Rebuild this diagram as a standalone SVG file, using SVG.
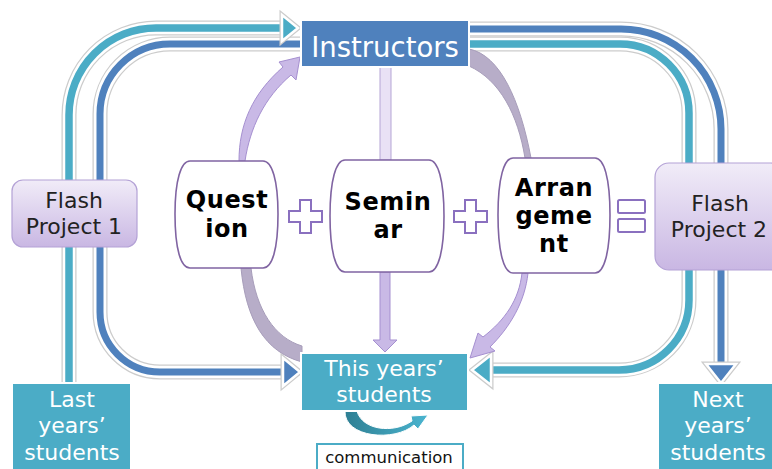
<svg xmlns="http://www.w3.org/2000/svg" xmlns:xlink="http://www.w3.org/1999/xlink" width="772" height="469" viewBox="0 0 772 469">
<defs>
<linearGradient id="lav" x1="0" y1="0" x2="0" y2="1">
<stop offset="0" stop-color="#f1ecf8"/>
<stop offset="1" stop-color="#c9b7e3"/>
</linearGradient>
<linearGradient id="commg" x1="0" y1="0" x2="1" y2="0">
<stop offset="0" stop-color="#2e7f93"/>
<stop offset="1" stop-color="#4bb5d0"/>
</linearGradient>
<path id="pTL" d="M 69 383 V 115 A 87 87 0 0 1 156 28 H 284"/>
<path id="pBL" d="M 300 44 H 170 A 70 70 0 0 0 100 114 V 312 A 60 60 0 0 0 160 372 H 285"/>
<path id="pBR" d="M 469 29 H 621 A 100 100 0 0 1 721 129 V 366"/>
<path id="pTR" d="M 469 44 H 620 A 69 69 0 0 1 689 113 V 300 A 70 70 0 0 1 619 370 H 489"/>
<polygon id="hTL" points="282,15 298,28 282,41"/>
<polygon id="hBL" points="283,358 300,372 283,386"/>
<polygon id="hBR" points="706,364 736,364 721,383"/>
<polygon id="hTR" points="491,355 472,370 491,385"/>
</defs>
<style>
.edge{fill:none;stroke:#cccccc;stroke-width:15}
.halo{fill:none;stroke:#ffffff;stroke-width:12.5}
.lt{fill:none;stroke:#4BACC6;stroke-width:7.5}
.lb{fill:none;stroke:#4F81BD;stroke-width:7}
.hedge{stroke:#cccccc;stroke-width:5;stroke-linejoin:miter}
.hhalo{stroke:#ffffff;stroke-width:2.5;stroke-linejoin:miter}
.ft{fill:#4BACC6}
.fb{fill:#4F81BD}
.node{fill:#ffffff;stroke:#8064A2;stroke-width:1.6}
.lavbox{fill:url(#lav);stroke:#b4a2d6;stroke-width:1.2}
.bluebox{stroke:#ffffff;stroke-width:2}
.txt{font-family:"DejaVu Sans",Verdana,sans-serif}
.w{fill:#ffffff}
.bold{font-family:"DejaVu Sans",Verdana,sans-serif;font-weight:bold;font-size:24px;letter-spacing:0.6px;fill:#000}
.sym{fill:#ffffff;stroke:#8a70bf;stroke-width:2}
.lavarrow{fill:#c9b9e6;stroke:#a58fd0;stroke-width:1}
.grayarrow{fill:#b7adc8;stroke:#a79dba;stroke-width:1}
</style>

<g id="connectors">
<use href="#pTL" class="edge"/><use href="#pTL" class="halo"/><use href="#pTL" class="lt"/>
<use href="#pBL" class="edge"/><use href="#pBL" class="halo"/><use href="#pBL" class="lb"/>
<use href="#pBR" class="edge"/><use href="#pBR" class="halo"/><use href="#pBR" class="lb"/>
<use href="#pTR" class="edge"/><use href="#pTR" class="halo"/><use href="#pTR" class="lt"/>
<use href="#hTL" class="hedge ft"/><use href="#hTL" class="hhalo ft"/>
<use href="#hBL" class="hedge fb"/><use href="#hBL" class="hhalo fb"/>
<use href="#hBR" class="hedge fb"/><use href="#hBR" class="hhalo fb"/>
<use href="#hTR" class="hedge ft"/><use href="#hTR" class="hhalo ft"/>
<path class="lavarrow" d="M 239 161 C 239 125 252 94 283 67 L 279 62 L 300 57 L 296 80 L 291 75 C 264 98 250 128 245 161 Z"/>
<path class="grayarrow" d="M 241 268 C 246 320 265 352 302 362 L 302 346 C 275 338 256 310 251 268 Z"/>
<rect x="380" y="67" width="11" height="93" fill="#e9e1f5" stroke="#b5a5d5" stroke-width="1"/>
<path class="lavarrow" d="M 380 272 V 340 H 373 L 385 352 L 397 340 H 390 V 272 Z"/>
<path class="grayarrow" d="M 469 49 C 500 55 520 100 531 158 L 525 158 C 518 115 500 80 469 66 Z"/>
<path class="lavarrow" d="M 522 273 C 519 300 505 320 483 337 L 478 333 L 470 358 L 495 351 L 490 347 C 510 327 525 302 528 273 Z"/>
<path fill="url(#commg)" stroke="#ffffff" stroke-width="1" d="M 345 411 C 344 438 395 442 414 425 L 418 429 L 428 415 L 411 416 L 412 421 C 393 434 362 430 357 411 Z"/>
</g>

<g id="instructors">
<rect x="301" y="20" width="168" height="47" class="bluebox" fill="#4F81BD"/>
<text x="385" y="57" text-anchor="middle" class="txt w" font-size="27.5">Instructors</text>
</g>

<g id="flash1">
<rect x="12" y="180" width="125" height="67" rx="11" class="lavbox"/>
<text x="74" y="208" text-anchor="middle" class="txt" font-size="22" fill="#222">Flash</text>
<text x="74" y="234" text-anchor="middle" class="txt" font-size="22" fill="#222">Project 1</text>
</g>

<g id="flash2">
<rect x="655" y="163" width="130" height="107" rx="14" class="lavbox"/>
<text x="720" y="211" text-anchor="middle" class="txt" font-size="22" fill="#222">Flash</text>
<text x="719" y="237" text-anchor="middle" class="txt" font-size="22" fill="#222">Project 2</text>
</g>

<g id="question">
<path class="node" d="M 190 161 H 263 C 272 161 278 180 278 214 C 278 250 272 268 263 268 H 190 C 181 268 175 250 175 214 C 175 180 181 161 190 161 Z"/>
<text x="227" y="208" text-anchor="middle" class="bold">Quest</text>
<text x="227" y="237" text-anchor="middle" class="bold">ion</text>
</g>

<g id="plus1">
<path class="sym" d="M 300 200 H 311 V 211 H 322 V 222 H 311 V 233 H 300 V 222 H 289 V 211 H 300 Z"/>
</g>

<g id="seminar">
<path class="node" d="M 345 160 H 429 C 438 160 444 180 444 216 C 444 252 438 272 429 272 H 345 C 336 272 330 252 330 216 C 330 180 336 160 345 160 Z"/>
<text x="388" y="210" text-anchor="middle" class="bold">Semin</text>
<text x="388" y="238" text-anchor="middle" class="bold">ar</text>
</g>

<g id="plus2">
<path class="sym" d="M 465 200 H 476 V 211 H 487 V 222 H 476 V 233 H 465 V 222 H 454 V 211 H 465 Z"/>
</g>

<g id="arrangement">
<path class="node" d="M 513 158 H 595 C 604 158 610 178 610 215 C 610 253 604 273 595 273 H 513 C 504 273 498 253 498 215 C 498 178 504 158 513 158 Z"/>
<text x="554" y="196" text-anchor="middle" class="bold">Arran</text>
<text x="554" y="224" text-anchor="middle" class="bold">geme</text>
<text x="554" y="252" text-anchor="middle" class="bold">nt</text>
</g>

<g id="equals">
<rect x="618" y="200" width="27" height="13" rx="1.5" class="sym"/>
<rect x="618" y="219" width="27" height="13" rx="1.5" class="sym"/>
</g>

<g id="this-years">
<rect x="301" y="353" width="167" height="58" class="bluebox" fill="#4BACC6"/>
<text x="384" y="376" text-anchor="middle" class="txt w" font-size="22">This years’</text>
<text x="384" y="402" text-anchor="middle" class="txt w" font-size="22">students</text>
</g>

<g id="last-years">
<rect x="12" y="383" width="119" height="90" class="bluebox" fill="#4BACC6"/>
<text x="72" y="407" text-anchor="middle" class="txt w" font-size="22">Last</text>
<text x="72" y="433" text-anchor="middle" class="txt w" font-size="22">years’</text>
<text x="72" y="460" text-anchor="middle" class="txt w" font-size="22">students</text>
</g>

<g id="next-years">
<rect x="658" y="383" width="120" height="90" class="bluebox" fill="#4BACC6"/>
<text x="718" y="407" text-anchor="middle" class="txt w" font-size="22">Next</text>
<text x="718" y="433" text-anchor="middle" class="txt w" font-size="22">years’</text>
<text x="718" y="460" text-anchor="middle" class="txt w" font-size="22">students</text>
</g>

<g id="communication">
<rect x="317" y="444" width="146" height="30" fill="#ffffff" stroke="#4BACC6" stroke-width="2"/>
<text x="389" y="463" text-anchor="middle" class="txt" font-size="16.5" fill="#111">communication</text>
</g>
</svg>
